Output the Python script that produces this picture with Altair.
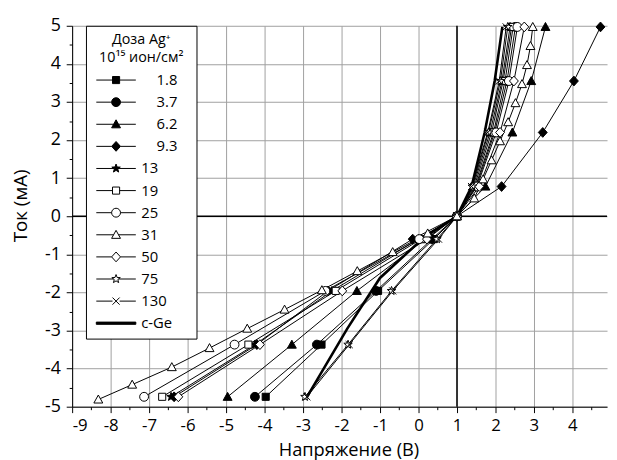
import math
import altair as alt
import pandas as pd

# ---- data ----
series = ["1.8", "3.7", "6.2", "9.3", "13", "19", "25", "31", "50", "75", "130", "c-Ge"]

cur_std = [-4.74, -3.37, -1.96, -0.60, 0.0, 0.78, 2.20, 3.55, 4.97]
v_1_8 = [-3.97, -2.52, -1.05, 0.40, 1.0, 1.45, 1.90, 2.20, 2.42]
v_3_7 = [-4.25, -2.64, -1.10, 0.35, 1.0, 1.50, 1.98, 2.30, 2.52]
v_6_2 = [-4.96, -3.29, -1.60, 0.18, 1.0, 1.74, 2.44, 2.93, 3.30]
v_9_3 = [-6.35, -4.20, -2.35, -0.15, 1.0, 2.16, 3.23, 4.04, 4.73]
v_13 = [-6.43, -4.25, -2.25, 0.00, 1.0, 1.42, 1.86, 2.17, 2.38]
v_19 = [-6.66, -4.42, -2.15, 0.07, 1.0, 1.48, 1.95, 2.25, 2.46]
v_25 = [-7.13, -4.78, -2.42, 0.02, 1.0, 1.52, 2.02, 2.35, 2.57]
v_50 = [-6.24, -4.12, -1.98, 0.22, 1.0, 1.58, 2.12, 2.48, 2.75]
v_75 = [-2.95, -1.83, -0.70, 0.48, 1.0, 1.40, 1.82, 2.13, 2.32]
v_130 = [-2.90, -1.80, -0.67, 0.52, 1.0, 1.38, 1.80, 2.10, 2.28]

cur_31 = [-4.81, -4.42, -3.96, -3.46, -2.95, -2.45, -1.94, -1.44, -0.94, -0.45, 0.0,
          0.47, 0.97, 1.47, 1.97, 2.47, 2.97, 3.47, 3.97, 4.47, 4.97]
v_31 = [-8.32, -7.44, -6.41, -5.43, -4.45, -3.48, -2.51, -1.59, -0.67, 0.24, 1.0,
        1.45, 1.68, 1.90, 2.12, 2.33, 2.52, 2.69, 2.82, 2.91, 2.97]

cur_cge = [-4.75, -2.95, -1.62, -0.55, 0.0, 0.78, 2.20, 3.55, 4.97]
v_cge = [-2.90, -1.85, -1.00, 0.15, 1.0, 1.38, 1.72, 1.98, 2.18]

x_ticks = [k / 2 for k in range(-18, 10)]
y_ticks = [k / 2 for k in range(-10, 11)]

# ---- build table ----
rows = []
def add(name, vs, cs):
    for i, (v, c) in enumerate(zip(vs, cs)):
        rows.append({"series": name, "V": v, "I": c, "idx": i})

for name, vs in [("1.8", v_1_8), ("3.7", v_3_7), ("6.2", v_6_2), ("9.3", v_9_3),
                 ("13", v_13), ("19", v_19), ("25", v_25), ("50", v_50),
                 ("75", v_75), ("130", v_130)]:
    add(name, vs, cur_std)
add("31", v_31, cur_31)
add("c-Ge", v_cge, cur_cge)
df = pd.DataFrame(rows)

# ---- marker shapes (unit paths) ----
def star(ro=1.0, ri=0.42):
    pts = []
    for k in range(10):
        r = ro if k % 2 == 0 else ri
        a = -math.pi / 2 + k * math.pi / 5
        pts.append((r * math.cos(a), r * math.sin(a)))
    return "M" + "L".join(f"{x:.3f},{y:.3f}" for x, y in pts) + "Z"

SQ = "M-0.8,-0.8H0.8V0.8H-0.8Z"
CI = "M-1,0A1,1 0 1,0 1,0A1,1 0 1,0 -1,0Z"
TR = "M0,-1L1,0.8L-1,0.8Z"
DI = "M0,-1.1L1,0L0,1.1L-1,0Z"
ST = star()
XX = "M-0.8,-0.8L0.8,0.8M-0.8,0.8L0.8,-0.8"

L = 4.45
def seg(a):
    return f"M{-L},0H{-a}M{a},0H{L}"

marker_series = series[:-1]
shape_plot = [SQ, CI, TR, DI, ST, SQ, CI, TR, DI, ST, XX]
fill_plot = ["black"] * 5 + ["white"] * 6
shape_leg = [SQ + seg(0.8), CI + seg(1.0), TR + seg(0.55), DI + seg(1.0), ST + seg(0.56),
             SQ + seg(0.8), CI + seg(1.0), TR + seg(0.55), DI + seg(1.0), ST + seg(0.56),
             XX + seg(0.8), f"M{-L},-0.25H{L}V0.25H{-L}Z"]
fill_leg = fill_plot + ["black"]
stroke_leg = ["black"] * len(series)

FONT = "Open Sans"
W, H = 542, 386
LBL = "datum.value % 1 === 0 ? '' + datum.value : ''"
GRID = {"condition": {"test": "datum.value % 1 !== 0", "value": "transparent"}, "value": "#a0a0a0"}
TICK = {"condition": {"test": "datum.value % 1 !== 0", "value": 3}, "value": 6}

xax = alt.Axis(values=x_ticks, title="Напряжение (В)", labelExpr=LBL, labelOverlap=False,
               gridColor=GRID, tickSize=TICK, labelPadding=5, labelFontSize=17,
               titleX=280, titleY=43, titleBaseline="middle", titleFontSize=18.5)
yax = alt.Axis(values=y_ticks, title="Ток (мА)", labelExpr=LBL, labelOverlap=False,
               gridColor=GRID, tickSize=TICK, labelPadding=6,
               titleX=-52, titleY=182, titleBaseline="middle")

X = alt.X("V:Q", scale=alt.Scale(domain=[-9, 4.9], nice=False, zero=False), axis=xax)
Y = alt.Y("I:Q", scale=alt.Scale(domain=[-5, 5], nice=False, zero=False), axis=yax)

base = alt.Chart(df)

vline = alt.Chart(pd.DataFrame({"V": [1.0]})).mark_rule(color="black", strokeWidth=1.5).encode(x=X)
hline = alt.Chart(pd.DataFrame({"I": [0.0]})).mark_rule(color="black", strokeWidth=1.5).encode(y=Y)

thin = base.transform_filter("datum.series !== 'c-Ge'").mark_line(
    color="black", strokeWidth=1).encode(x=X, y=Y, detail="series:N", order="idx:Q")
thick = base.transform_filter("datum.series === 'c-Ge'").mark_line(
    color="black", strokeWidth=2.6).encode(x=X, y=Y, order="idx:Q")

pts = base.transform_filter("datum.series !== 'c-Ge'").mark_point(
    opacity=1, strokeWidth=1, size=81).encode(
    x=X, y=Y,
    shape=alt.Shape("series:N", scale=alt.Scale(domain=marker_series, range=shape_plot), legend=None),
    fill=alt.Fill("series:N", scale=alt.Scale(domain=marker_series, range=fill_plot), legend=None),
    stroke=alt.value("black"))

NB = "\u00a0"
ZW = "\u200b"
leg = alt.Legend(title=["Доза Ag⁺", "10¹⁵ ион/см²"], orient="none", legendX=14, legendY=0,
                 symbolSize=81, symbolStrokeColor="black", symbolStrokeWidth=1,
                 symbolOffset=16, labelOffset=18, padding=7, rowPadding=6.4,
                 labelExpr=f"(indexof('' + datum.value, '.') >= 0 ? '{ZW}{NB*4}' : '') + datum.label + '{NB*3}{ZW}'",
                 titleAnchor="middle", titleAlign="center", titlePadding=7, titleLineHeight=19,
                 strokeColor="black", fillColor="white")

legend_layer = base.transform_filter("false").mark_point(opacity=1, size=81).encode(
    x=X, y=Y,
    shape=alt.Shape("series:N", scale=alt.Scale(domain=series, range=shape_leg), legend=leg),
    fill=alt.Fill("series:N", scale=alt.Scale(domain=series, range=fill_leg), legend=leg),
    stroke=alt.Stroke("series:N", scale=alt.Scale(domain=series, range=stroke_leg), legend=leg))

chart = alt.layer(vline, hline, thin, thick, pts, legend_layer).resolve_scale(
    shape="independent", fill="independent", stroke="independent"
).properties(
    width=W, height=H,
    autosize=alt.AutoSizeParams(type="none"),
    padding={"left": 65, "top": 15, "right": 2, "bottom": 52},
).configure_view(stroke=None).configure_axis(
    labelFont=FONT, labelFontSize=18, labelColor="black",
    titleFont=FONT, titleFontSize=19, titleFontWeight="normal", titleColor="black",
    domainColor="black", domainWidth=1, tickColor="black", gridWidth=1,
).configure_legend(
    labelFont=FONT, labelFontSize=15, labelColor="black",
    titleFont=FONT, titleFontSize=14.5, titleFontWeight="normal", titleColor="black",
)

chart.save("out.html", embed_options={"renderer": "svg", "actions": False})
